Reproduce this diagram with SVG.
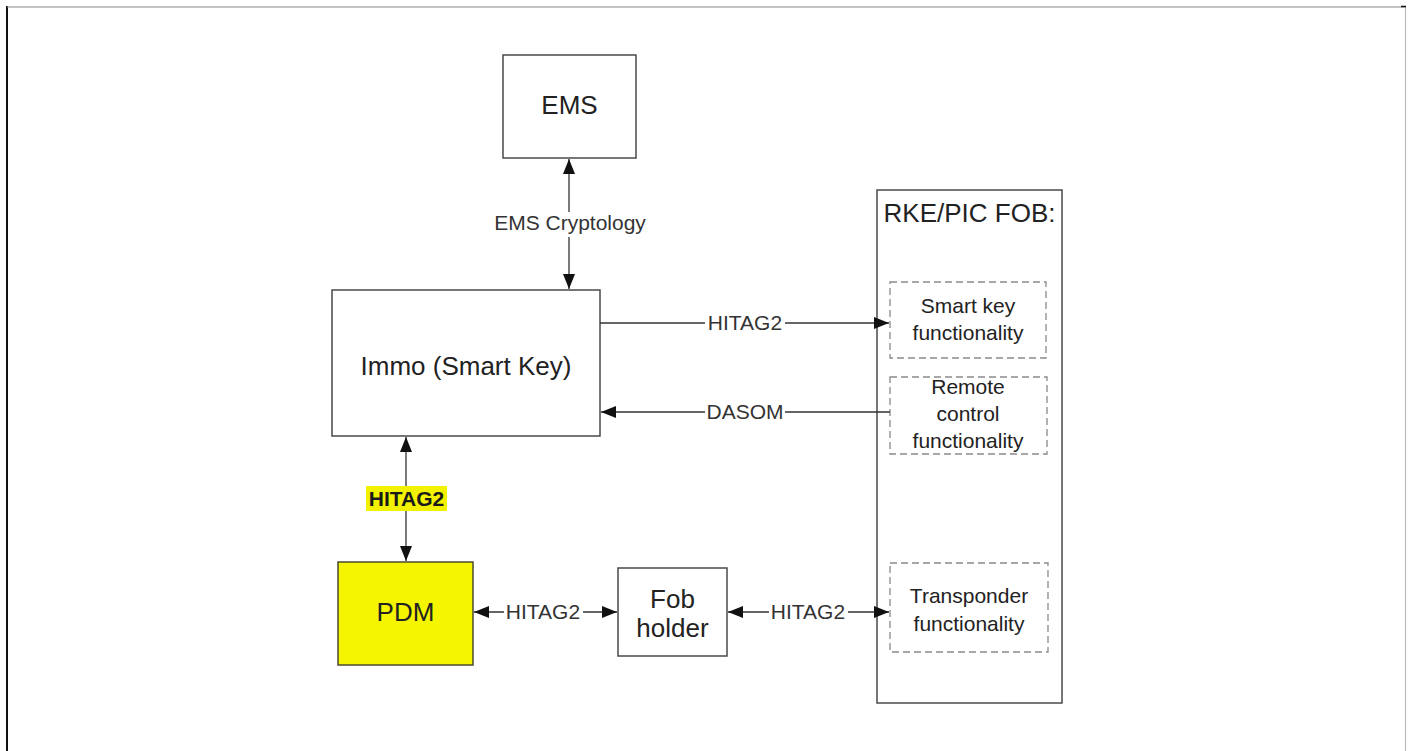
<svg xmlns="http://www.w3.org/2000/svg" width="1409" height="751" viewBox="0 0 1409 751">
<style>
.box{fill:#fff;stroke:#4a4a4a;stroke-width:1.5}
.dash{fill:#fff;stroke:#8a8a8a;stroke-width:1.3;stroke-dasharray:7 4}
.t{font-family:"Liberation Sans",Arial,sans-serif;fill:#222;text-anchor:middle}
.big{font-size:26px}
.mid{font-size:21px}
.lbl{font-family:"Liberation Sans",Arial,sans-serif;font-size:21px;fill:#333;text-anchor:middle}
.bg{fill:#fff}
.ln{stroke:#333;stroke-width:1.3;fill:none}
</style>
<defs>
<marker id="ah" markerUnits="userSpaceOnUse" markerWidth="16" markerHeight="14" refX="15" refY="7" orient="auto-start-reverse" viewBox="0 0 16 14">
<path d="M0,1 L15,7 L0,13 Z" fill="#111"/>
</marker>
</defs>
<rect width="1409" height="751" fill="#fff"/>
<g id="frame">
<line x1="7" y1="6" x2="7" y2="751" stroke="#111" stroke-width="2"/>
<line x1="7" y1="7" x2="1405" y2="7" stroke="#888" stroke-width="1.2"/>
<line x1="1405.5" y1="7" x2="1405.5" y2="751" stroke="#bbb" stroke-width="1.2"/>
<line x1="1401" y1="6.5" x2="1406" y2="6.5" stroke="#111" stroke-width="1.5"/>
</g>
<g id="ems">
<rect class="box" x="503" y="55" width="133" height="103"/>
<text class="t big" x="569.5" y="114">EMS</text>
</g>
<g id="immo">
<rect class="box" x="332" y="290" width="268" height="146"/>
<text class="t big" x="466" y="375">Immo (Smart Key)</text>
</g>
<g id="pdm">
<rect x="338" y="562" width="135" height="103" fill="#f5f500" stroke="#4a4a30" stroke-width="1.5"/>
<text class="t big" x="405.5" y="621">PDM</text>
</g>
<g id="fob-holder">
<rect class="box" x="618" y="568" width="109" height="88"/>
<text class="t big" x="672.5" y="608">Fob</text>
<text class="t big" x="672.5" y="637">holder</text>
</g>
<g id="rke-fob">
<rect class="box" x="877" y="190" width="185" height="513"/>
<text class="t big" x="969.5" y="222">RKE/PIC FOB:</text>
</g>
<g id="smart-key">
<rect class="dash" x="890" y="282" width="156" height="76"/>
<text class="t mid" x="968" y="313">Smart key</text>
<text class="t mid" x="968" y="340">functionality</text>
</g>
<g id="remote-control">
<rect class="dash" x="890" y="377" width="157" height="77"/>
<text class="t mid" x="968" y="394">Remote</text>
<text class="t mid" x="968" y="421">control</text>
<text class="t mid" x="968" y="448">functionality</text>
</g>
<g id="transponder">
<rect class="dash" x="890" y="563" width="158" height="89"/>
<text class="t mid" x="969" y="603">Transponder</text>
<text class="t mid" x="969" y="631">functionality</text>
</g>
<g id="connectors">
<line class="ln" x1="569" y1="159" x2="569" y2="289" marker-start="url(#ah)" marker-end="url(#ah)"/>
<rect class="bg" x="492" y="212" width="156" height="25"/>
<text class="lbl" x="570" y="230">EMS Cryptology</text>
<line class="ln" x1="600" y1="323" x2="889" y2="323" marker-end="url(#ah)"/>
<rect class="bg" x="705" y="311" width="80" height="24"/>
<text class="lbl" x="745" y="330">HITAG2</text>
<line class="ln" x1="890" y1="412" x2="601" y2="412" marker-end="url(#ah)"/>
<rect class="bg" x="705" y="400" width="80" height="24"/>
<text class="lbl" x="745" y="419">DASOM</text>
<line class="ln" x1="406" y1="437" x2="406" y2="561" marker-start="url(#ah)" marker-end="url(#ah)"/>
<rect x="366" y="486" width="81" height="25" fill="#f2f200"/>
<text class="t" x="406.5" y="506" style="font-size:21px;font-weight:bold;fill:#1a1a1a">HITAG2</text>
<line class="ln" x1="474" y1="612" x2="617" y2="612" marker-start="url(#ah)" marker-end="url(#ah)"/>
<rect class="bg" x="504" y="600" width="79" height="24"/>
<text class="lbl" x="543" y="619">HITAG2</text>
<line class="ln" x1="728" y1="612" x2="889" y2="612" marker-start="url(#ah)" marker-end="url(#ah)"/>
<rect class="bg" x="769" y="600" width="79" height="24"/>
<text class="lbl" x="808" y="619">HITAG2</text>
</g>
</svg>
